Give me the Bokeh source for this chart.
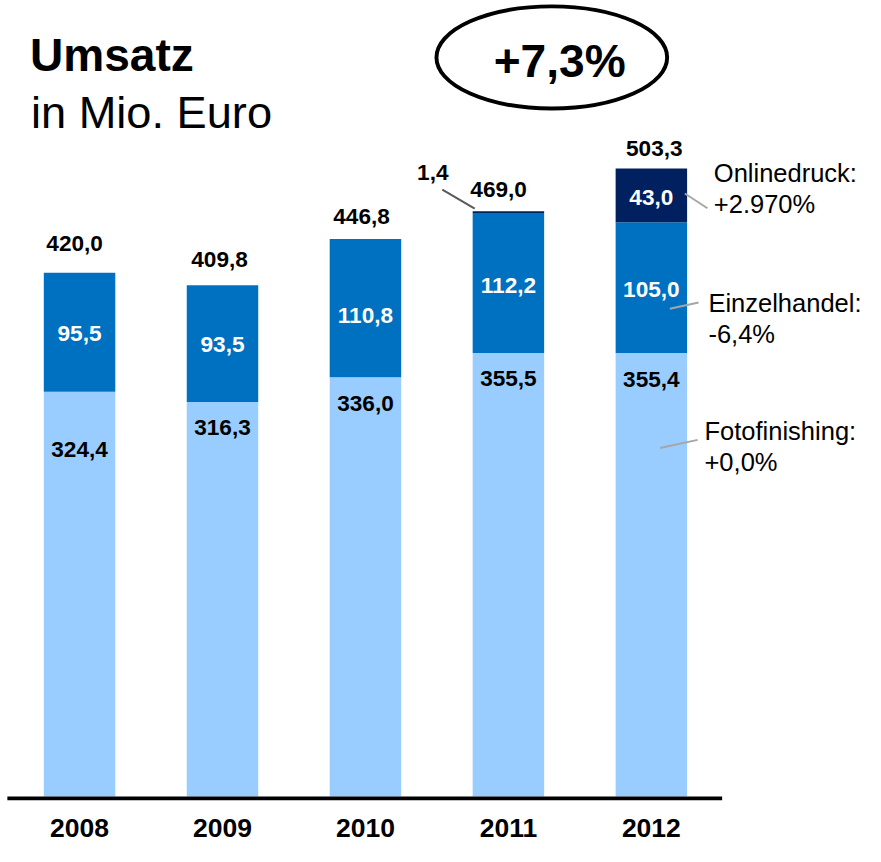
from bokeh.plotting import figure
from bokeh.models import Range1d, Label, ColumnDataSource
from bokeh.core.properties import value
from bokeh.embed import file_html
from bokeh.resources import INLINE

# ---------------- data ----------------
years = ["2008", "2009", "2010", "2011", "2012"]
fotofinishing = [324.4, 316.3, 336.0, 355.5, 355.4]
einzelhandel = [95.5, 93.5, 110.8, 112.2, 105.0]
onlinedruck = [0.0, 0.0, 0.0, 1.4, 43.0]
totals = [420.0, 409.8, 446.8, 469.0, 503.3]
segment_names = ["Fotofinishing:", "Einzelhandel:", "Onlinedruck:"]
segment_growth = ["+0,0%", "-6,4%", "+2.970%"]
total_growth = "+7,3%"
title = "Umsatz"
subtitle = "in Mio. Euro"

# ---------------- layout / style ----------------
W, H = 865, 846
RW, RH = 881, 862            # reference layout size
SX, SY = W / RW, H / RH
S = (SX + SY) / 2
RPXY = 1.271                 # reference pixels per unit on y
RZERO = 811.0                # reference row of value 0
RX0 = 80.5                   # reference column of first bar centre
RSTEP = 145.6                # reference pixels between bar centres
BAR_W = 0.5
C_LIGHT = "#99CCFF"
C_MID = "#0070C0"
C_DARK = "#002060"
FONT = "Liberation Sans"
BASE_FIX = 0.35              # em shift to land the alphabetic baseline


def dx(px):
    return (px - RX0) / RSTEP


def dy(py):
    return (RZERO - py) / RPXY


def fs(px):
    return f"{px * S:.1f}px"


def fix(size):
    return BASE_FIX * size * S


def fmt(v):
    return f"{v:.1f}".replace(".", ",")


n = len(years)
idx = list(range(n))
b1 = fotofinishing
t2 = [a + b for a, b in zip(fotofinishing, einzelhandel)]
t3 = [a + b for a, b in zip(t2, onlinedruck)]

p = figure(width=W, height=H, x_range=Range1d(dx(0), dx(RW)),
           y_range=Range1d(dy(RH), dy(0)), output_backend="svg",
           toolbar_location=None, min_border=0)
p.axis.visible = False
p.grid.visible = False
p.outline_line_color = None
p.background_fill_color = "white"
p.border_fill_color = "white"

# bars
p.vbar(x=idx, width=BAR_W, bottom=[0] * n, top=b1, fill_color=C_LIGHT, line_color=None)
p.vbar(x=idx, width=BAR_W, bottom=b1, top=t2, fill_color=C_MID, line_color=None)
p.vbar(x=idx, width=BAR_W, bottom=t2, top=t3, fill_color=C_DARK, line_color=None)

# baseline
p.segment(x0=[dx(7)], x1=[dx(735)], y0=[dy(813)], y1=[dy(813)],
          line_color="black", line_width=4 * S)

common = dict(text_font=value(FONT), text_font_style="bold", text_align="center",
              text_baseline="alphabetic")
F = 23  # bar label size (reference px)

# total labels above bars
tot_gap = [22, 18.6, 15.4, 14, 12.4]
tot_dx = [-5, -3, -4, -10, 3]
src_tot = ColumnDataSource(dict(x=idx, y=totals, t=[fmt(v) for v in totals],
                                xo=[d * S for d in tot_dx],
                                yo=[-g * S - fix(F) for g in tot_gap]))
p.text(x="x", y="y", text="t", x_offset="xo", y_offset="yo", source=src_tot,
       text_font_size=fs(F), text_color="black", **common)

# fotofinishing labels (near top of light segment)
ff_gap = [59, 26, 27, 26, 27]
src_ff = ColumnDataSource(dict(x=idx, y=b1, t=[fmt(v) for v in fotofinishing],
                               yo=[(g + 8) * S - fix(F) for g in ff_gap]))
p.text(x="x", y="y", text="t", y_offset="yo", source=src_ff,
       text_font_size=fs(F), text_color="black", **common)

# einzelhandel labels (centre of segment)
ez_dy = [1, 1, 7, 3, 2]
src_ez = ColumnDataSource(dict(x=idx, y=[a + b / 2 for a, b in zip(b1, einzelhandel)],
                               t=[fmt(v) for v in einzelhandel],
                               yo=[(d + 8) * S - fix(F) for d in ez_dy]))
p.text(x="x", y="y", text="t", y_offset="yo", source=src_ez,
       text_font_size=fs(F), text_color="white", **common)

# onlinedruck labels
big = [i for i in idx if onlinedruck[i] >= 10]
small = [i for i in idx if 0 < onlinedruck[i] < 10]
src_od = ColumnDataSource(dict(x=big, y=[t2[i] + onlinedruck[i] / 2 for i in big],
                               t=[fmt(onlinedruck[i]) for i in big]))
p.text(x="x", y="y", text="t", y_offset=10 * S - fix(F), source=src_od,
       text_font_size=fs(F), text_color="white", **common)
src_ods = ColumnDataSource(dict(x=small, y=[t3[i] for i in small],
                                t=[fmt(onlinedruck[i]) for i in small]))
p.text(x="x", y="y", text="t", x_offset=-77 * S, y_offset=-31 * S - fix(F), source=src_ods,
       text_font_size=fs(F), text_color="black", **common)
p.segment(x0=[dx(450)], y0=[dy(192.7)], x1=[dx(483)], y1=[dy(212)],
          line_color="#595959", line_width=2 * S)

# year labels
src_y = ColumnDataSource(dict(x=idx, y=[0] * n, t=years))
p.text(x="x", y="y", text="t", y_offset=42 * S - fix(27), source=src_y,
       text_font_size=fs(27), text_color="black", **common)


def lab(x, y, text, size, bold=False, align="left"):
    p.add_layout(Label(x=x * SX, y=H - y * SY + fix(size), x_units="screen", y_units="screen",
                       text=text, text_font=FONT,
                       text_font_style="bold" if bold else "normal",
                       text_font_size=fs(size), text_align=align,
                       text_baseline="alphabetic", text_color="black"))


# titles
lab(30, 72, title, 47, bold=True)
lab(31, 130, subtitle, 46)

# growth ellipse
p.ellipse(x=[dx(561.5)], y=[dy(58)], width=235 * S, height=104 * S,
          width_units="screen", height_units="screen",
          fill_color=None, line_color="black", line_width=4 * S)
lab(569.5, 78, total_growth, 47, bold=True, align="center")

# segment annotations (right side)
ann_x = [717, 721, 726.5]
ann_y1 = [448, 317, 185]
ann_y2 = [479, 349, 216]
for name, g, ax, y1, y2 in zip(segment_names, segment_growth, ann_x, ann_y1, ann_y2):
    lab(ax, y1, name, 26)
    lab(ax, y2, g, 26)

# leader lines for annotations
lx0 = [671.7, 681.7, 697]
ly0 = [456, 314, 196.7]
lx1 = [710, 711, 720]
ly1 = [447.7, 307.7, 211.7]
p.segment(x0=[dx(v) for v in lx0], y0=[dy(v) for v in ly0],
          x1=[dx(v) for v in lx1], y1=[dy(v) for v in ly1],
          line_color="#A6A6A6", line_width=2 * S)

open("out.html", "w").write(file_html(p, INLINE))
